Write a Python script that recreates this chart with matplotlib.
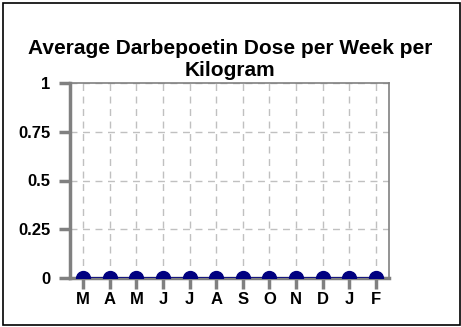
import matplotlib
matplotlib.use("Agg")
import matplotlib.pyplot as plt
from matplotlib.patches import Rectangle

plt.rcParams['font.family'] = ['Liberation Sans', 'DejaVu Sans']

months = ["M", "A", "M", "J", "J", "A", "S", "O", "N", "D", "J", "F"]
dose = [0, 0, 0, 0, 0, 0, 0, 0, 0, 0, 0, 0]
y_ticks = [0, 0.25, 0.5, 0.75, 1]
y_labels = ["0", "0.25", "0.5", "0.75", "1"]
title_lines = ["Average Darbepoetin Dose per Week per", "Kilogram"]

fig = plt.figure(figsize=(4.61, 3.27), dpi=100)
ax = fig.add_axes([70 / 461, 1 - 278 / 327, 319 / 461, 195 / 327])

x = list(range(len(months)))
ax.plot(x, dose, color="#000080", linewidth=1.2, marker="o", markersize=10,
        markerfacecolor="#000080", markeredgecolor="#000080", zorder=3)

ax.set_xlim(-0.5, len(months) - 0.5)
ax.set_ylim(0, 1)
ax.set_xticks(x)
ax.set_xticklabels(months)
ax.set_yticks(y_ticks)
ax.set_yticklabels(y_labels)

ax.grid(True, color="#c0c0c0", linestyle=(0, (5, 4)), linewidth=1.0)
ax.set_axisbelow(True)

for side in ["left", "bottom"]:
    ax.spines[side].set_color("#808080")
    ax.spines[side].set_linewidth(2.5)
for side in ["top", "right"]:
    ax.spines[side].set_color("#808080")
    ax.spines[side].set_linewidth(1.2)

ax.tick_params(axis="both", colors="#808080", width=2.5, length=8,
               labelcolor="black", labelsize=12)
ax.tick_params(axis="y", pad=6)
ax.tick_params(axis="x", pad=2)
for lbl in ax.get_xticklabels() + ax.get_yticklabels():
    lbl.set_fontweight("bold")

# two-line title, each line placed on its own
for line, ypix in zip(title_lines, [48, 71]):
    fig.text(230 / 461, 1 - ypix / 327, line, ha="center", va="center",
             fontsize=15, fontweight="bold")

# frame around the whole figure
fig.patches.append(Rectangle((3 / 461, 2 / 327), 457 / 461, 322 / 327,
                             transform=fig.transFigure, fill=False,
                             edgecolor="black", linewidth=1.2))

fig.savefig("out.png", dpi=100)
